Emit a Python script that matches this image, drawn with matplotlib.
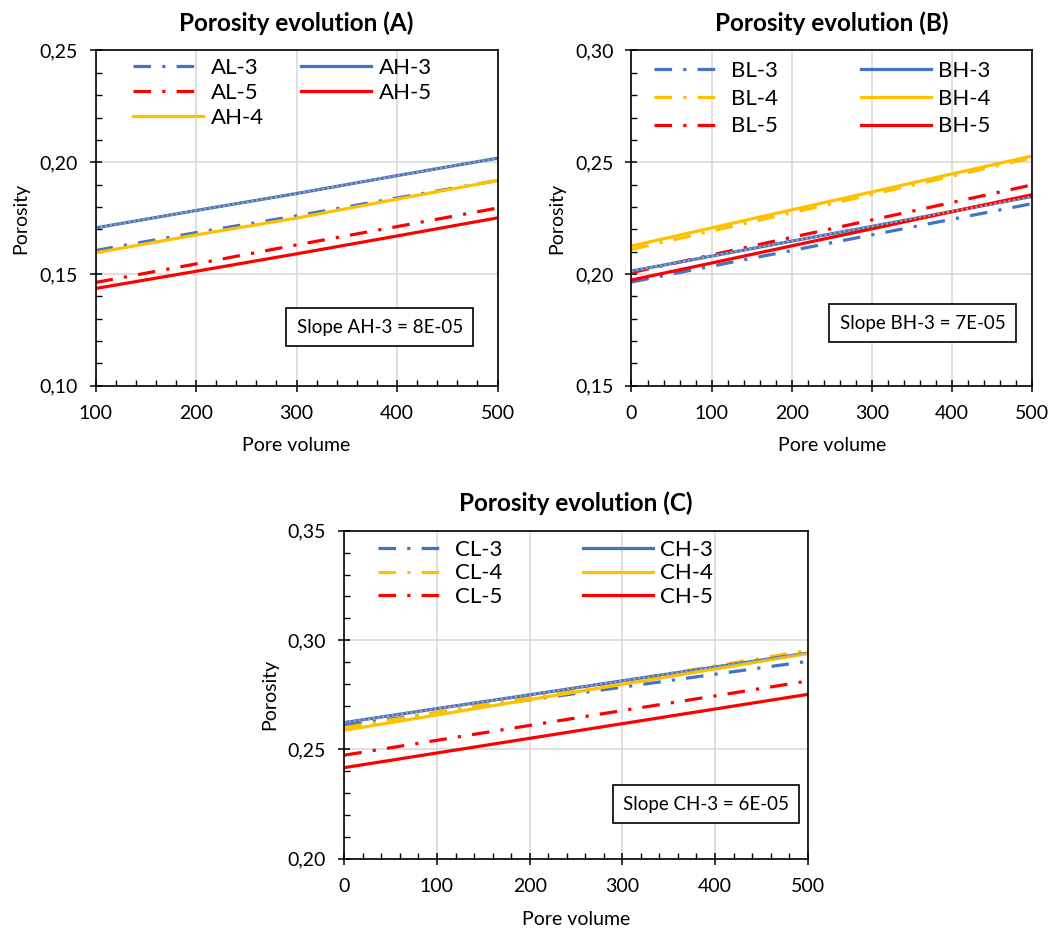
import matplotlib
matplotlib.use("Agg")
import matplotlib.pyplot as plt
from matplotlib.ticker import FuncFormatter, MultipleLocator

plt.rcParams['font.family'] = ['Lato', 'DejaVu Sans']

# ---- data ----
x_a = [100, 200, 300, 400, 500]
al3 = [0.1605, 0.1685, 0.1760, 0.1840, 0.1918]
al5 = [0.1462, 0.1545, 0.1630, 0.1712, 0.1795]
ah3 = [0.1706, 0.1784, 0.1860, 0.1940, 0.2018]
ah4 = [0.1595, 0.1675, 0.1750, 0.1835, 0.1918]
ah5 = [0.1435, 0.1512, 0.1590, 0.1670, 0.1751]

x_b = [0, 100, 200, 300, 400, 500]
bl3 = [0.1964, 0.2035, 0.2105, 0.2175, 0.2245, 0.2315]
bl4 = [0.2110, 0.2192, 0.2274, 0.2356, 0.2438, 0.2520]
bl5 = [0.2006, 0.2085, 0.2164, 0.2242, 0.2320, 0.2399]
bh3 = [0.2013, 0.2080, 0.2147, 0.2213, 0.2280, 0.2347]
bh4 = [0.2125, 0.2206, 0.2287, 0.2367, 0.2448, 0.2528]
bh5 = [0.1973, 0.2049, 0.2126, 0.2202, 0.2279, 0.2355]

x_c = [0, 100, 200, 300, 400, 500]
cl3 = [0.2610, 0.2668, 0.2727, 0.2785, 0.2844, 0.2903]
cl4 = [0.2600, 0.2670, 0.2741, 0.2811, 0.2882, 0.2953]
cl5 = [0.2474, 0.2542, 0.2610, 0.2678, 0.2745, 0.2813]
ch3 = [0.2623, 0.2687, 0.2750, 0.2814, 0.2877, 0.2941]
ch4 = [0.2588, 0.2658, 0.2728, 0.2798, 0.2868, 0.2938]
ch5 = [0.2417, 0.2484, 0.2551, 0.2618, 0.2685, 0.2752]

BLUE = '#4472C4'
GOLD = '#FFC000'
RED = '#FF0000'
GRAY = '#A5A5A5'
DASHDOT = (0, (5.5, 3.5, 1, 3.5))
TREND = (0, (1, 1.3))
LW = 2.3


def comma(v, pos):
    return f"{v:.2f}".replace('.', ',')


def style_axes(ax, title, xlim, ylim):
    ax.set_xlim(*xlim)
    ax.set_ylim(*ylim)
    ax.xaxis.set_major_locator(MultipleLocator(100))
    ax.xaxis.set_minor_locator(MultipleLocator(20))
    ax.yaxis.set_major_locator(MultipleLocator(0.05))
    ax.yaxis.set_minor_locator(MultipleLocator(0.01))
    ax.yaxis.set_major_formatter(FuncFormatter(comma))
    ax.grid(True, which='major', color='#D9D9D9', linewidth=1.2)
    ax.set_axisbelow(True)
    ax.tick_params(which='major', direction='inout', length=8, width=1.1, labelsize=14)
    ax.tick_params(axis='x', which='major', pad=10)
    ax.tick_params(axis='y', which='major', pad=9)
    ax.tick_params(which='minor', direction='in', length=4, width=1.0)
    for s in ax.spines.values():
        s.set_linewidth(1.2)
        s.set_color('black')
    ax.set_title(title, fontsize=17.5, fontweight='bold', pad=14)
    ax.set_xlabel('Pore volume', fontsize=14, labelpad=11)
    ax.set_ylabel('Porosity', fontsize=14, labelpad=7)


def slope_box(ax, txt, x, y):
    ax.text(x, y, txt, transform=ax.transAxes, ha='center', va='center', fontsize=13.5,
            bbox=dict(boxstyle='square,pad=0.55', facecolor='white', edgecolor='black', linewidth=1.2))


def add_legend(ax, handles, x, y, colsp, ls):
    ax.legend(handles=handles, ncol=2, loc='upper left', bbox_to_anchor=(x, y),
              frameon=False, fontsize=16, handlelength=3.15, handletextpad=0.32,
              columnspacing=colsp, labelspacing=ls, borderpad=0, borderaxespad=0)


fig = plt.figure(figsize=(10.5, 9.31), dpi=100)

# ---- panel A ----
ax = fig.add_axes([0.0910, 0.5857, 0.3829, 0.3601])
h = []
h += ax.plot(x_a, al3, color=BLUE, ls=DASHDOT, lw=LW, label='AL-3')
h += ax.plot(x_a, al5, color=RED, ls=DASHDOT, lw=LW, label='AL-5')
h += ax.plot(x_a, ah4, color=GOLD, lw=LW, label='AH-4')
h += ax.plot(x_a, ah3, color=BLUE, lw=LW, label='AH-3')
h += ax.plot(x_a, ah5, color=RED, lw=LW, label='AH-5')
ax.plot(x_a, ah3, color=GRAY, ls=TREND, lw=1.5)
style_axes(ax, 'Porosity evolution (A)', (100, 500), (0.10, 0.25))
add_legend(ax, h, 0.094, 0.977, 1.7, 0.21)
slope_box(ax, 'Slope AH-3 = 8E-05', 0.707, 0.175)

# ---- panel B ----
ax = fig.add_axes([0.6014, 0.5857, 0.3819, 0.3601])
h = []
h += ax.plot(x_b, bl3, color=BLUE, ls=DASHDOT, lw=LW, label='BL-3')
h += ax.plot(x_b, bl4, color=GOLD, ls=DASHDOT, lw=LW, label='BL-4')
h += ax.plot(x_b, bl5, color=RED, ls=DASHDOT, lw=LW, label='BL-5')
h += ax.plot(x_b, bh3, color=BLUE, lw=LW, label='BH-3')
h += ax.plot(x_b, bh4, color=GOLD, lw=LW, label='BH-4')
h += ax.plot(x_b, bh5, color=RED, lw=LW, label='BH-5')
ax.plot(x_b, bh3, color=GRAY, ls=TREND, lw=1.5)
style_axes(ax, 'Porosity evolution (B)', (0, 500), (0.15, 0.30))
add_legend(ax, h, 0.055, 0.968, 3.75, 0.34)
slope_box(ax, 'Slope BH-3 = 7E-05', 0.726, 0.187)

# ---- panel C ----
ax = fig.add_axes([0.3279, 0.0775, 0.4413, 0.3524])
h = []
h += ax.plot(x_c, cl3, color=BLUE, ls=DASHDOT, lw=LW, label='CL-3')
h += ax.plot(x_c, cl4, color=GOLD, ls=DASHDOT, lw=LW, label='CL-4')
h += ax.plot(x_c, cl5, color=RED, ls=DASHDOT, lw=LW, label='CL-5')
h += ax.plot(x_c, ch3, color=BLUE, lw=LW, label='CH-3')
h += ax.plot(x_c, ch4, color=GOLD, lw=LW, label='CH-4')
h += ax.plot(x_c, ch5, color=RED, lw=LW, label='CH-5')
ax.plot(x_c, ch3, color=GRAY, ls=TREND, lw=1.5)
style_axes(ax, 'Porosity evolution (C)', (0, 500), (0.20, 0.35))
add_legend(ax, h, 0.072, 0.973, 3.65, 0.17)
slope_box(ax, 'Slope CH-3 = 6E-05', 0.781, 0.167)

fig.savefig('out.png', dpi=100)
